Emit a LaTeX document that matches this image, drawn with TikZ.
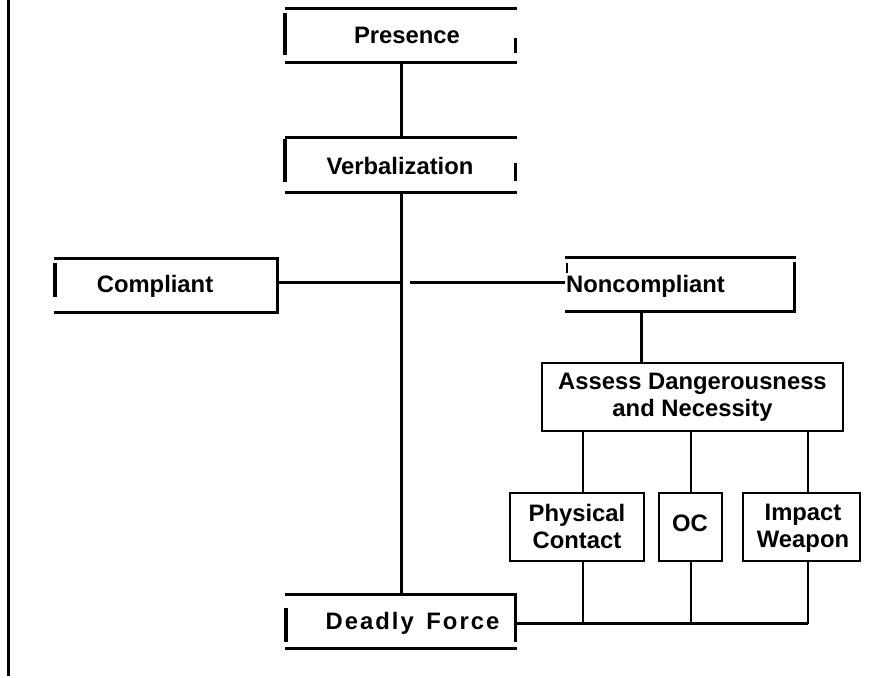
\documentclass[tikz,border=0pt]{standalone}
\usepackage{fontspec}
\setmainfont{Liberation Sans}
\begin{document}
\begin{tikzpicture}[x=1pt,y=-1pt,
  boxnode/.style 2 args={minimum width=#1pt,minimum height=#2pt,inner sep=0pt,outer sep=0pt},
  txt/.style={font=\bfseries\fontsize{23.8}{27}\selectfont,inner sep=0pt,align=center},
  ln/.style={line width=3pt},
  thk/.style={line width=4pt},
  fine/.style={line width=2.3pt}]
\useasboundingbox (0,0) rectangle (890,677);

% boxes (outlines drawn below) and their texts
\node[boxnode={232}{53}] (pres) at (401,35.5) {};
\node[txt,anchor=base] (presT) at (407,44) {Presence};
\node[boxnode={232}{55}] (verb) at (401,164.5) {};
\node[txt,anchor=base] (verbT) at (400,174) {Verbalization};
\node[boxnode={223}{54}] (comp) at (165.5,285) {};
\node[txt,anchor=base] (compT) at (155,292) {Compliant};
\node[boxnode={231}{54}] (nonc) at (680.5,284) {};
\node[txt,anchor=base west] (noncT) at (566,292) {Noncompliant};
\node[boxnode={301}{68}] (asse) at (692.5,397) {};
\node[txt,anchor=north] (asseT) at (692.5,373) {Assess Dangerousness\\and Necessity};
\node[boxnode={134}{68}] (phys) at (577,527) {};
\node[txt,anchor=north] (physT) at (577,504) {Physical\\Contact};
\node[boxnode={63}{68}] (oc) at (690.5,527) {};
\node[txt,anchor=base] (ocT) at (690,531) {OC};
\node[boxnode={117}{68}] (impw) at (801.5,527) {};
\node[txt,anchor=north] (impwT) at (803,504) {Impact\\Weapon};
\node[boxnode={232}{54}] (dead) at (401,621) {};
\node[txt,anchor=base] (deadT) at (412.5,629) {\addfontfeatures{LetterSpace=8.5}Deadly\hspace{4pt} Force};

% helper coordinates
\coordinate (jc) at (401,282);
\coordinate (jn) at (410,282);
\coordinate (xn) at (641,0);
\coordinate (xp) at (583,0);
\coordinate (xo) at (691,0);
\coordinate (xi) at (808,0);
\coordinate (bus) at (808,623);
\coordinate (bt) at (8,0);
\coordinate (bb) at (8,676);

% box outlines
\draw[ln] (pres.north west) -- (pres.north east);
\draw[ln] (pres.south west) -- (pres.south east);
\draw[thk] ([yshift=-4pt]pres.north west) -- ([yshift=7pt]pres.south west);
\draw[ln] ([xshift=-2pt,yshift=-29pt]pres.north east) -- ([xshift=-2pt,yshift=9pt]pres.south east);

\draw[ln] (verb.north west) -- (verb.north east);
\draw[ln] (verb.south west) -- (verb.south east);
\draw[thk] ([yshift=-2pt]verb.north west) -- ([yshift=10pt]verb.south west);
\draw[ln] ([xshift=-2pt,yshift=-26pt]verb.north east) -- ([xshift=-2pt,yshift=11pt]verb.south east);

\draw[ln] (comp.north west) -- (comp.north east) -- (comp.south east) -- (comp.south west);
\draw[thk] ([xshift=1pt,yshift=-5pt]comp.north west) -- ([xshift=1pt,yshift=15pt]comp.south west);

\draw[ln] (nonc.north west) -- (nonc.north east);
\draw[ln] (nonc.south west) -- (nonc.south east);
\draw[ln] ([xshift=-1.5pt,yshift=-5pt]nonc.north east) -- ([xshift=-1.5pt]nonc.south east);
\draw[line width=2pt] ([xshift=2pt,yshift=-6pt]nonc.north west) -- ([xshift=2pt,yshift=-16pt]nonc.north west);

\draw[fine] (asse.north west) rectangle (asse.south east);
\draw[fine] (phys.north west) rectangle (phys.south east);
\draw[fine] (oc.north west) rectangle (oc.south east);
\draw[fine] (impw.north west) rectangle (impw.south east);

\draw[ln] (dead.north west) -- (dead.north east);
\draw[ln] (dead.south west) -- (dead.south east);
\draw[thk] ([xshift=1pt,yshift=-14pt]dead.north west) -- ([xshift=1pt,yshift=6pt]dead.south west);
\draw[ln] ([xshift=-2pt]dead.north east) -- ([xshift=-2pt,yshift=6pt]dead.south east);

% connectors
\draw[ln] (pres.south) -- (verb.north);
\draw[ln] (verb.south) -- (dead.north);
\draw[ln] (comp.east |- jc) -- (jc);
\draw[ln] (jn) -- (nonc.west |- jn);
\draw[ln] (nonc.south -| xn) -- (asse.north -| xn);
\draw[fine] (asse.south -| xp) -- (phys.north -| xp);
\draw[fine] (asse.south -| xo) -- (oc.north -| xo);
\draw[fine] (asse.south -| xi) -- (impw.north -| xi);
\draw[fine] (phys.south -| xp) -- (bus -| xp);
\draw[fine] (oc.south -| xo) -- (bus -| xo);
\draw[fine,line cap=rect] (impw.south -| xi) -- (bus);
\draw[ln] (dead.east |- bus) -- (bus);
\draw[ln] (bt) -- (bb);
\end{tikzpicture}
\end{document}
